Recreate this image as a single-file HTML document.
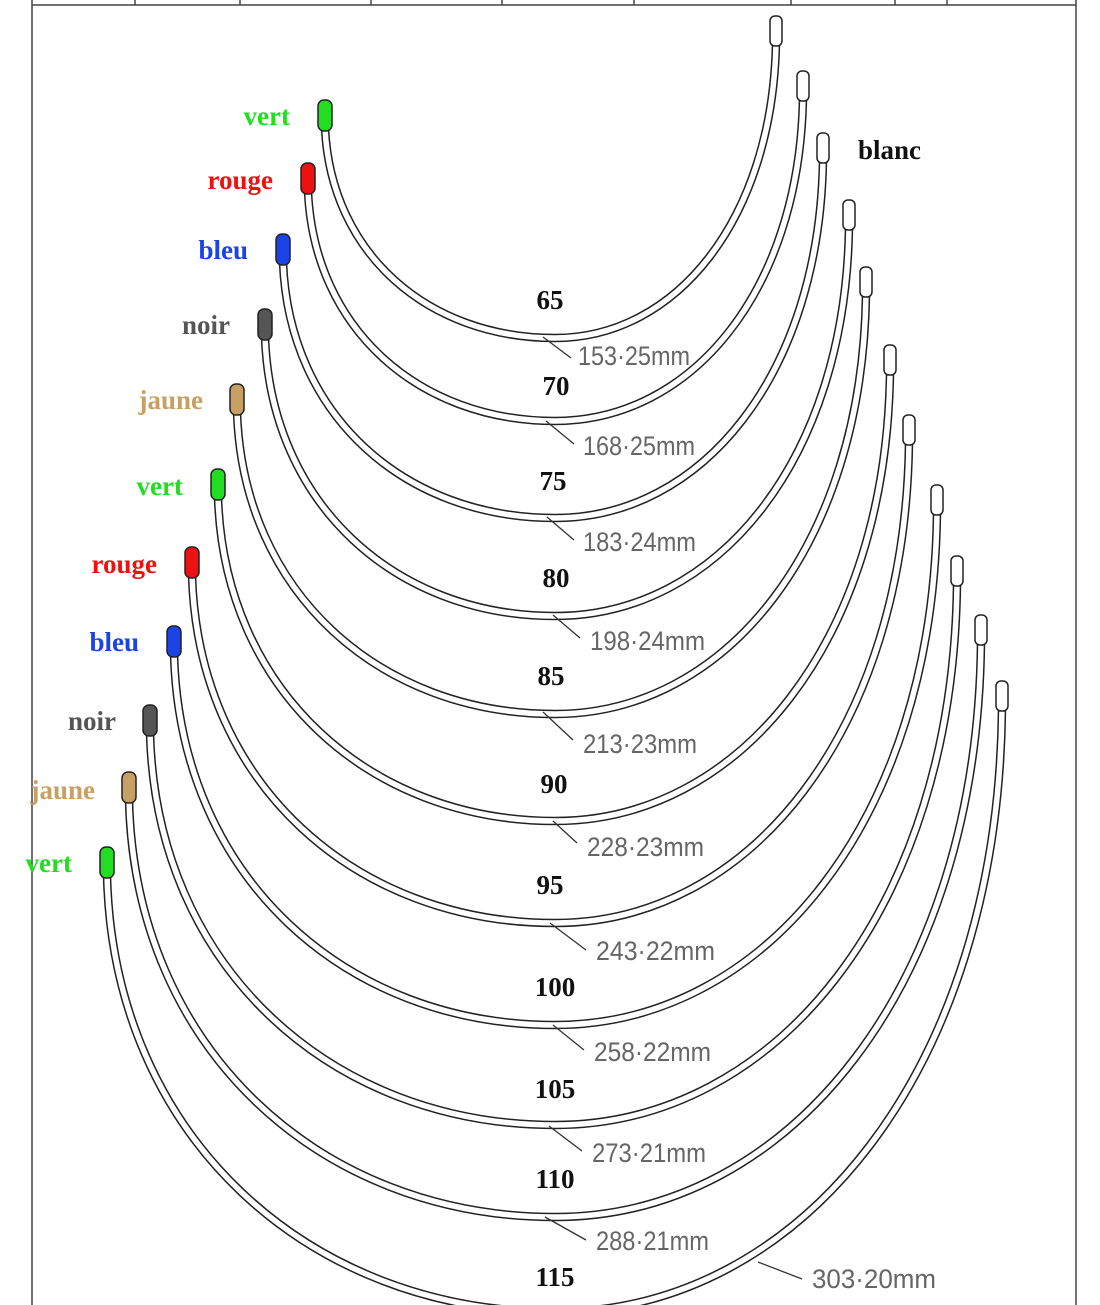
<!DOCTYPE html>
<html><head><meta charset="utf-8"><style>
html,body{margin:0;padding:0;background:#fff;}
svg{display:block;}
#wires path{fill:none;}
.w1{fill:none;stroke:#222;stroke-width:8.5;}
.w2{fill:none;stroke:#fff;stroke-width:5.5;}
.lab{font-family:"Liberation Serif",serif;font-weight:bold;font-size:27px;}
.num{font-family:"Liberation Serif",serif;font-weight:bold;font-size:27px;fill:#111;text-anchor:middle;}
.mm{font-family:"Liberation Sans",sans-serif;font-size:27px;fill:#666;font-weight:normal;}
.ld{stroke:#333;stroke-width:1.3;}
.cap{stroke:#222;stroke-width:1.5;}
</style></head><body>
<svg width="1100" height="1305" viewBox="0 0 1100 1305" xmlns="http://www.w3.org/2000/svg">
<g stroke="#444" stroke-width="1.5">
<line x1="32" y1="5" x2="1076" y2="5"/>
<line x1="32" y1="0" x2="32" y2="1305"/>
<line x1="1076" y1="0" x2="1076" y2="1305"/>
<line x1="135" y1="0" x2="135" y2="5"/><line x1="240" y1="0" x2="240" y2="5"/>
<line x1="371" y1="0" x2="371" y2="5"/><line x1="502" y1="0" x2="502" y2="5"/>
<line x1="634" y1="0" x2="634" y2="5"/><line x1="791" y1="0" x2="791" y2="5"/>
<line x1="895" y1="0" x2="895" y2="5"/><line x1="947" y1="0" x2="947" y2="5"/>
</g>
<defs>
<g id="wires" fill="none">
<path fill="none" d="M325,128 C331,254 428,338 555,338 C676,338 772,220 776,44"/>
<path fill="none" d="M308,191 C314,329 419,421 555,421 C691,421 799,292 803,99"/>
<path fill="none" d="M283,262 C289,416 405,518 555,518 C702,518 819,375 823,161"/>
<path fill="none" d="M265,337 C271,504 395,616 555,616 C717,616 845,461 849,228"/>
<path fill="none" d="M237,412 C243,593 380,714 555,714 C726,714 862,546 866,295"/>
<path fill="none" d="M218,497 C224,691 370,821 555,821 C739,821 886,642 890,373"/>
<path fill="none" d="M192,575 C198,784 355,923 555,923 C750,923 905,731 909,443"/>
<path fill="none" d="M174,654 C180,877 345,1025 555,1025 C765,1025 933,820 937,513"/>
<path fill="none" d="M150,733 C156,968 332,1125 555,1125 C776,1125 953,909 957,584"/>
<path fill="none" d="M129,800 C135,1050 321,1217 555,1217 C789,1217 977,987 981,643"/>
<path fill="none" d="M107,875 C113,1137 309,1312 555,1312 C801,1312 998,1071 1002,709"/>
</g>
</defs>
<use href="#wires" class="w1"/>
<use href="#wires" class="w2"/>
<g class="cap">
<rect x="318" y="100" width="14" height="31" rx="6" fill="#22dd22"/>
<rect x="301" y="163" width="14" height="31" rx="6" fill="#ee1111"/>
<rect x="276" y="234" width="14" height="31" rx="6" fill="#1a44e8"/>
<rect x="258" y="309" width="14" height="31" rx="6" fill="#555"/>
<rect x="230" y="384" width="14" height="31" rx="6" fill="#c9a064"/>
<rect x="211" y="469" width="14" height="31" rx="6" fill="#22dd22"/>
<rect x="185" y="547" width="14" height="31" rx="6" fill="#ee1111"/>
<rect x="167" y="626" width="14" height="31" rx="6" fill="#1a44e8"/>
<rect x="143" y="705" width="14" height="31" rx="6" fill="#555"/>
<rect x="122" y="772" width="14" height="31" rx="6" fill="#c9a064"/>
<rect x="100" y="847" width="14" height="31" rx="6" fill="#22dd22"/>
<g fill="#fff">
<rect x="770" y="16" width="12" height="30" rx="5"/>
<rect x="797" y="71" width="12" height="30" rx="5"/>
<rect x="817" y="133" width="12" height="30" rx="5"/>
<rect x="843" y="200" width="12" height="30" rx="5"/>
<rect x="860" y="267" width="12" height="30" rx="5"/>
<rect x="884" y="345" width="12" height="30" rx="5"/>
<rect x="903" y="415" width="12" height="30" rx="5"/>
<rect x="931" y="485" width="12" height="30" rx="5"/>
<rect x="951" y="556" width="12" height="30" rx="5"/>
<rect x="975" y="615" width="12" height="30" rx="5"/>
<rect x="996" y="681" width="12" height="30" rx="5"/>
</g>
</g>
<g class="lab" text-anchor="end">
<text x="290" y="125" fill="#22dd22">vert</text>
<text x="273" y="189" fill="#ee1111">rouge</text>
<text x="248" y="259" fill="#1a44e8">bleu</text>
<text x="230" y="334" fill="#555">noir</text>
<text x="203" y="409" fill="#c9a064">jaune</text>
<text x="183" y="495" fill="#22dd22">vert</text>
<text x="157" y="573" fill="#ee1111">rouge</text>
<text x="139" y="651" fill="#1a44e8">bleu</text>
<text x="116" y="730" fill="#555">noir</text>
<text x="95" y="799" fill="#c9a064">jaune</text>
<text x="72" y="872" fill="#22dd22">vert</text>
</g>
<text class="lab" x="858" y="159" fill="#111">blanc</text>
<g class="num">
<text x="550" y="309">65</text>
<text x="556" y="395">70</text>
<text x="553" y="490">75</text>
<text x="556" y="587">80</text>
<text x="551" y="685">85</text>
<text x="554" y="793">90</text>
<text x="550" y="894">95</text>
<text x="555" y="996">100</text>
<text x="555" y="1098">105</text>
<text x="555" y="1188">110</text>
<text x="555" y="1286">115</text>
</g>
<g class="ld">
<line x1="543" y1="337" x2="571" y2="358"/>
<line x1="546" y1="421" x2="574" y2="444"/>
<line x1="547" y1="517" x2="574" y2="540"/>
<line x1="553" y1="615" x2="580" y2="638"/>
<line x1="543" y1="712" x2="573" y2="740"/>
<line x1="553" y1="821" x2="577" y2="843"/>
<line x1="550" y1="923" x2="586" y2="950"/>
<line x1="553" y1="1025" x2="584" y2="1050"/>
<line x1="549" y1="1126" x2="582" y2="1151"/>
<line x1="545" y1="1217" x2="586" y2="1240"/>
<line x1="758" y1="1262" x2="802" y2="1279"/>
</g>
<g class="mm">
<text x="578" y="365" textLength="112" lengthAdjust="spacingAndGlyphs">153·25mm</text>
<text x="583" y="455" textLength="112" lengthAdjust="spacingAndGlyphs">168·25mm</text>
<text x="583" y="551" textLength="113" lengthAdjust="spacingAndGlyphs">183·24mm</text>
<text x="590" y="650" textLength="115" lengthAdjust="spacingAndGlyphs">198·24mm</text>
<text x="583" y="753" textLength="114" lengthAdjust="spacingAndGlyphs">213·23mm</text>
<text x="587" y="856" textLength="117" lengthAdjust="spacingAndGlyphs">228·23mm</text>
<text x="596" y="960" textLength="119" lengthAdjust="spacingAndGlyphs">243·22mm</text>
<text x="594" y="1061" textLength="117" lengthAdjust="spacingAndGlyphs">258·22mm</text>
<text x="592" y="1162" textLength="114" lengthAdjust="spacingAndGlyphs">273·21mm</text>
<text x="596" y="1250" textLength="113" lengthAdjust="spacingAndGlyphs">288·21mm</text>
<text x="812" y="1288" textLength="124" lengthAdjust="spacingAndGlyphs">303·20mm</text>
</g>
</svg>
</body></html>
